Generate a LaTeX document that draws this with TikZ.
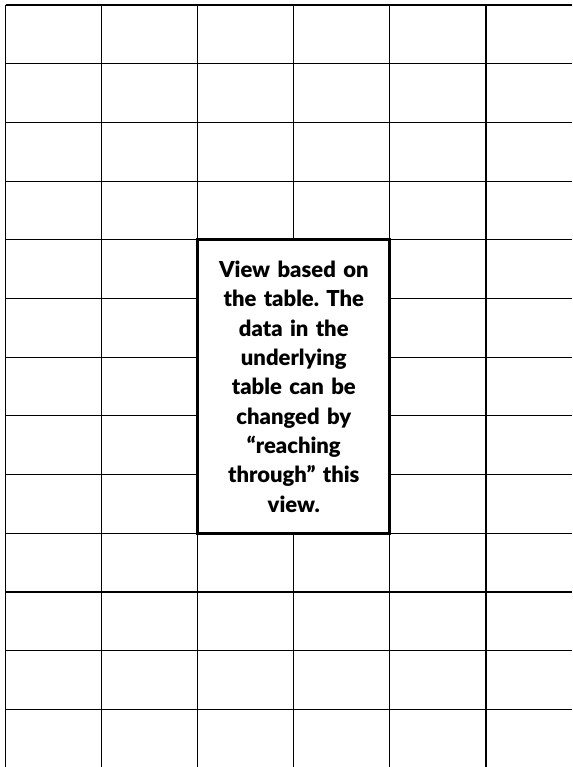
\documentclass[tikz,border=0pt]{standalone}
\usepackage{fontspec}
\setmainfont{Lato}[BoldFont={Lato Black}]
\usetikzlibrary{positioning}
\frenchspacing

\begin{document}
\begin{tikzpicture}[
  x=0.75pt, y=-0.75pt,
  cell/.style={draw=black, line width=0.8pt},
  viewbox/.style={draw=black, line width=2.3pt, fill=white, align=center,
                  text width=118pt, inner sep=0pt,
                  minimum width=144.2pt, minimum height=220.1pt,
                  font=\fontsize{16.5}{22}\selectfont\bfseries},
]
\useasboundingbox (0,0) rectangle (572,767);

% ---- the table grid -------------------------------------------------------
\foreach \i in {0,...,12} \draw[cell] (5.5,{5+58.7*\i}) -- (572,{5+58.7*\i});
\foreach \j in {0,...,5} \draw[cell] ({5.5+96.1*\j},5) -- ({5.5+96.1*\j},767);

% ---- the view over the table ----------------------------------------------
\node[viewbox] (view) at (293.8,386.5)
  {View based on\\ the table. The\\ data in the\\ underlying\\ table can be\\
   changed by\\ “reaching\\ through” this\\ view.};

\end{tikzpicture}
\end{document}
